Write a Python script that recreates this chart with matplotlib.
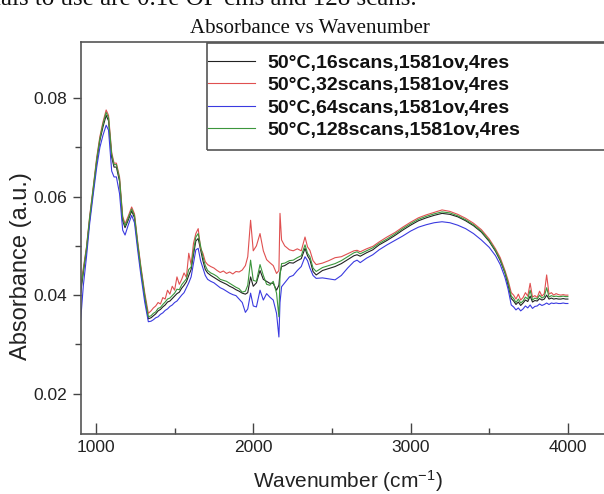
import matplotlib
matplotlib.use("Agg")
import matplotlib.pyplot as plt
from matplotlib.patches import Rectangle

plt.rcParams['font.family'] = ['Liberation Sans', 'DejaVu Sans']
plt.rcParams['mathtext.default'] = 'regular'

# ---------------- data ----------------
wavenumber = [903, 920, 940, 960, 983, 1005, 1025, 1045, 1065, 1080, 1100, 1115, 1130, 1150, 1170, 1185, 1205, 1227, 1245, 1265, 1285, 1310, 1333,
              1350, 1365, 1380, 1395, 1410, 1425, 1440, 1455, 1470, 1485, 1500, 1515, 1530, 1545, 1560, 1575, 1590, 1605, 1620, 1635, 1650, 1665, 1680, 1695, 1710,
              1730, 1750, 1770, 1790, 1810, 1830, 1850, 1870, 1890, 1910, 1930, 1950, 1965, 1983, 2000, 2020, 2043, 2064, 2085, 2105,
              2127, 2148, 2163, 2170, 2180, 2200, 2230, 2254, 2280, 2305, 2329, 2345, 2360, 2380, 2400,
              2440, 2480, 2520, 2560, 2600, 2640, 2660, 2680, 2720, 2760, 2800, 2850, 2900, 2950, 3000, 3050, 3100, 3150, 3200, 3250,
              3300, 3350, 3400, 3450, 3500, 3540, 3570, 3600,
              3620, 3640, 3655, 3670, 3685, 3700, 3715, 3730, 3745, 3760, 3775, 3790, 3805, 3820, 3835, 3850, 3865, 3880, 3895, 3910,
              3925, 3940, 3955, 3970, 3985, 4000]

abs_16 = [.0405, .0446, .0492, .0553, .0613, .0672, .0714, .0742, .0765, .0754, .0680, .0660, .0660, .0631, .0551, .0537, .0552, .0571, .0557, .0502, .0452, .0396, .0352,
          .0354, .0358, .0362, .0368, .0371, .0376, .0380, .0386, .0388, .0393, .0398, .0403, .0406, .0414, .0420, .0427, .0440, .0452, .0482, .0510, .0515, .0492, .0470, .0452, .0445,
          .0440, .0436, .0432, .0428, .0425, .0422, .0418, .0415, .0411, .0408, .0404, .0402, .0405, .0437, .0418, .0425, .0450, .0432, .0428, .0424,
          .0424, .0410, .0420, .0445, .0458, .0460, .0466, .0465, .0470, .0474, .0495, .0480, .0472, .0448, .0441,
          .0450, .0454, .0458, .0464, .0472, .0480, .0482, .0479, .0486, .0492, .0502, .0511, .0521, .0532, .0542, .0551, .0557, .0562, .0566, .0564,
          .0559, .0551, .0541, .0528, .0509, .0489, .0470, .0445,
          .0420, .0393, .0388, .0381, .0386, .0379, .0384, .0390, .0387, .0398, .0386, .0389, .0388, .0393, .0390, .0392, .0400, .0392, .0394, .0392,
          .0393, .0392, .0392, .0393, .0392, .0392]

abs_32 = [.0420, .0455, .0498, .0560, .0620, .0680, .0722, .0752, .0776, .0765, .0690, .0668, .0668, .0640, .0560, .0545, .0560, .0579, .0565, .0510, .0460, .0405, .0363,
          .0368, .0374, .0378, .0385, .0382, .0395, .0392, .0410, .0402, .0418, .0410, .0437, .0422, .0432, .0445, .0436, .0485, .0462, .0505, .0525, .0535, .0495, .0485, .0468, .0462,
          .0458, .0455, .0450, .0446, .0449, .0444, .0447, .0443, .0448, .0447, .0451, .0460, .0478, .0552, .0490, .0500, .0525, .0490, .0472, .0466,
          .0460, .0444, .0450, .0566, .0512, .0500, .0492, .0490, .0494, .0490, .0518, .0498, .0491, .0470, .0462,
          .0465, .0470, .0476, .0478, .0484, .0490, .0491, .0488, .0494, .0499, .0508, .0518, .0527, .0538, .0548, .0557, .0563, .0568, .0573, .0570,
          .0564, .0556, .0546, .0533, .0514, .0494, .0476, .0450,
          .0430, .0405, .0400, .0392, .0402, .0390, .0395, .0405, .0398, .0424, .0396, .0399, .0395, .0408, .0398, .0403, .0441, .0402, .0405, .0400,
          .0403, .0401, .0400, .0401, .0400, .0400]

abs_64 = [.0350, .0420, .0478, .0545, .0605, .0660, .0700, .0725, .0745, .0735, .0652, .0640, .0640, .0606, .0532, .0522, .0542, .0562, .0547, .0492, .0442, .0386, .0346,
          .0347, .0350, .0354, .0356, .0361, .0364, .0369, .0372, .0377, .0380, .0385, .0388, .0394, .0400, .0405, .0415, .0425, .0437, .0465, .0492, .0495, .0470, .0455, .0440, .0432,
          .0428, .0425, .0420, .0415, .0412, .0408, .0404, .0401, .0399, .0392, .0385, .0365, .0372, .0404, .0378, .0376, .0410, .0390, .0403, .0396,
          .0390, .0363, .0315, .0385, .0417, .0425, .0437, .0440, .0450, .0458, .0478, .0470, .0455, .0440, .0434,
          .0435, .0433, .0431, .0440, .0455, .0468, .0471, .0466, .0475, .0482, .0492, .0502, .0511, .0520, .0530, .0538, .0543, .0547, .0549, .0547,
          .0542, .0535, .0525, .0512, .0497, .0480, .0462, .0436,
          .0412, .0380, .0376, .0370, .0374, .0368, .0372, .0378, .0374, .0380, .0373, .0377, .0378, .0382, .0379, .0381, .0384, .0381, .0384, .0383,
          .0384, .0383, .0383, .0384, .0383, .0383]

abs_128 = [.0412, .0450, .0496, .0557, .0617, .0676, .0718, .0748, .0771, .0760, .0686, .0665, .0665, .0636, .0556, .0541, .0556, .0575, .0561, .0506, .0456, .0400, .0356,
           .0358, .0363, .0366, .0373, .0375, .0381, .0386, .0392, .0394, .0399, .0404, .0412, .0411, .0421, .0427, .0433, .0452, .0457, .0490, .0518, .0525, .0500, .0478, .0460, .0450,
           .0445, .0442, .0438, .0432, .0430, .0428, .0424, .0420, .0416, .0413, .0406, .0408, .0420, .0471, .0430, .0428, .0462, .0440, .0422, .0420,
           .0428, .0404, .0356, .0440, .0464, .0465, .0470, .0471, .0476, .0480, .0502, .0485, .0478, .0455, .0448,
           .0456, .0460, .0464, .0470, .0478, .0486, .0488, .0484, .0490, .0496, .0505, .0514, .0524, .0535, .0545, .0554, .0560, .0565, .0569, .0567,
           .0561, .0553, .0543, .0530, .0511, .0491, .0472, .0447,
           .0425, .0398, .0393, .0385, .0392, .0384, .0388, .0396, .0392, .0410, .0390, .0394, .0392, .0400, .0394, .0397, .0415, .0396, .0399, .0397,
           .0398, .0397, .0397, .0398, .0397, .0397]

series_labels = ['50°C,16scans,1581ov,4res', '50°C,32scans,1581ov,4res',
                 '50°C,64scans,1581ov,4res', '50°C,128scans,1581ov,4res']
series_colors = ['#222222', '#e05050', '#3a3ae0', '#3c963c']
x_ticks = [1000, 2000, 3000, 4000]
y_ticks = [0.02, 0.04, 0.06, 0.08]

# ---------------- figure ----------------
W, H = 604, 494
fig = plt.figure(figsize=(W / 100, H / 100), dpi=100)


def fx(px):
    return px / W


def fy(py):
    return 1 - py / H


ax = fig.add_axes([fx(81), fy(434), fx(622) - fx(81), fy(42) - fy(434)])
for vals, lab, col in zip([abs_16, abs_32, abs_64, abs_128], series_labels, series_colors):
    ax.plot(wavenumber, vals, color=col, lw=0.8, label=lab)

ax.set_xlim(905, 4344)
ax.set_ylim(0.0118, 0.0914)
ax.set_xticks(x_ticks)
ax.set_xticks([1500, 2500, 3500], minor=True)
ax.set_yticks(y_ticks)
ax.set_yticks([0.03, 0.05, 0.07], minor=True)
ax.set_yticklabels([f'{v:.2f}' for v in y_ticks])
ax.tick_params(axis='x', which='major', direction='in', length=8, width=1, labelsize=12.5,
               colors='#444444', labelcolor='#222222', pad=4)
ax.tick_params(axis='x', which='minor', direction='in', length=4, width=1, colors='#444444')
ax.tick_params(axis='y', which='major', direction='out', length=6, width=1, labelsize=12.5,
               colors='#444444', labelcolor='#222222', pad=4)
ax.tick_params(axis='y', which='minor', direction='out', length=4, width=1, colors='#444444')
for s in ['left', 'bottom', 'top', 'right']:
    ax.spines[s].set_color('#555555')
    ax.spines[s].set_linewidth(1.2)

leg = ax.legend(loc='upper left', bbox_to_anchor=(fx(208), fy(54)), bbox_transform=fig.transFigure,
                frameon=False, prop={'weight': 'bold', 'size': 14}, handlelength=2.4,
                handletextpad=0.65, borderpad=0, borderaxespad=0, labelspacing=0.25)
for t in leg.get_texts():
    t.set_color('#111111')
fig.patches.append(Rectangle((fx(207), fy(150)), fx(620) - fx(207), fy(43) - fy(150),
                             transform=fig.transFigure, fill=False, edgecolor='#555555', lw=1.2))

fig.text(fx(310), fy(33), 'Absorbance vs Wavenumber', family='Liberation Serif', fontsize=15,
         ha='center', va='baseline', color='#111111')
fig.text(-0.01, fy(5), 'ials to use are 0.1e OF cms and 128 scans.', family='Liberation Serif',
         fontsize=18, ha='left', va='baseline', color='#111111')
fig.text(fx(21), fy(266), 'Absorbance (a.u.)', rotation=90, fontsize=17, ha='center', va='center',
         color='#222222')
fig.text(fx(348), fy(488), 'Wavenumber (cm$^{-1}$)', fontsize=15, ha='center', va='baseline',
         color='#222222')

fig.savefig('out.png', dpi=100)
